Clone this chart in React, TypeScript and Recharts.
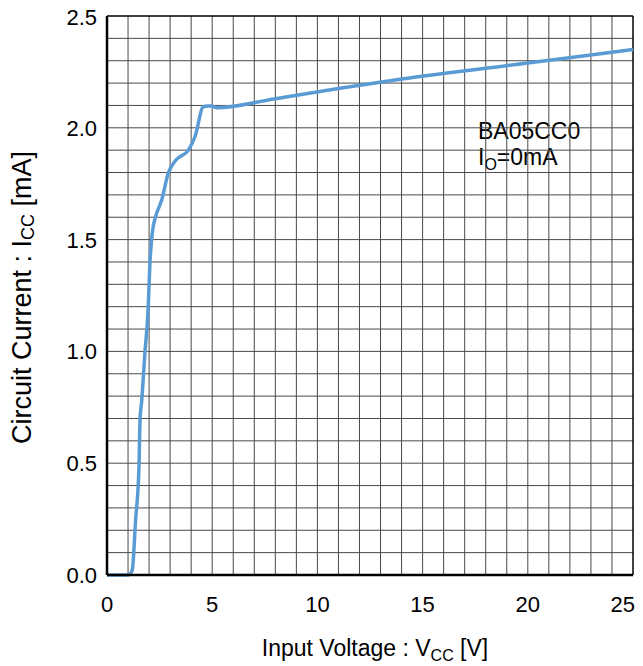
import React from "react";
import { LineChart, Line, XAxis, YAxis, ReferenceLine, ReferenceArea } from "recharts";

const voltage = [0, 0.5, 1.0, 1.1, 1.2, 1.36, 1.52, 1.57, 1.65, 1.8, 1.96, 2.04, 2.12, 2.2, 2.3, 2.6, 2.91, 3.28, 3.87, 4.18, 4.58, 4.8, 4.97, 5.21, 8.0, 11.07, 13.93, 20.0, 25];
const current = [0, 0, 0, 0.005, 0.022, 0.246, 0.484, 0.693, 0.78, 0.99, 1.2, 1.395, 1.5, 1.56, 1.6, 1.677, 1.797, 1.856, 1.9, 1.96, 2.094, 2.097, 2.097, 2.09, 2.13, 2.177, 2.217, 2.29, 2.35];
const xTicks = [0, 5, 10, 15, 20, 25];
const yTicks = [0, 0.5, 1.0, 1.5, 2.0, 2.5];
const labelLines = ["BA05CC0", "I", "O", "=0mA"];

const data = voltage.map((v, k) => ({ v, i: current[k] }));

const xGrid: number[] = [];
for (let k = 1; k < 25; k++) xGrid.push(k);
const yGrid: number[] = [];
for (let k = 1; k < 25; k++) yGrid.push(Math.round(k * 10) / 100);

const FONT = "Liberation Sans, Arial, sans-serif";

const XTick = (props: any) => {
  const { x, y, payload } = props;
  const last = payload.value === xTicks[xTicks.length - 1];
  return (
    <text x={last ? x + 8 : x} y={y} textAnchor={last ? "end" : "middle"} dy={15} fontFamily={FONT} fontSize={22} fill="#000">
      {payload.value}
    </text>
  );
};

const YTick = (props: any) => {
  const { x, y, payload } = props;
  return (
    <text x={x} y={y} textAnchor="end" dy={8} fontFamily={FONT} fontSize={22} fill="#000">
      {Number(payload.value).toFixed(1)}
    </text>
  );
};

const XLabel = (props: any) => {
  const vb = props.viewBox;
  return (
    <text x={vb.x + vb.width / 2 + 5} y={vb.y + 81} textAnchor="middle" fontFamily={FONT} fontSize={23} fill="#000">
      Input Voltage : V<tspan fontSize={16} dy={5}>CC</tspan><tspan dy={-5}> [V]</tspan>
    </text>
  );
};

const YLabel = (props: any) => {
  const vb = props.viewBox;
  const cx = 14;
  const cy = vb.y + vb.height / 2 + 2;
  return (
    <text x={cx} y={cy} transform={`rotate(-90 ${cx} ${cy})`} textAnchor="middle" dominantBaseline="central" fontFamily={FONT} fontSize={27} fill="#000">
      Circuit Current : I<tspan fontSize={18} dy={6}>CC</tspan><tspan dy={-6}> [mA]</tspan>
    </text>
  );
};

const BoxLabel = (props: any) => {
  const vb = props.viewBox;
  const x = vb.x + 7;
  return (
    <text fontFamily={FONT} fontSize={23} fill="#000">
      <tspan x={x} y={vb.y + 27}>{labelLines[0]}</tspan>
      <tspan x={x} y={vb.y + 53}>{labelLines[1]}</tspan>
      <tspan fontSize={16} dy={5}>{labelLines[2]}</tspan>
      <tspan dy={-5}>{labelLines[3]}</tspan>
    </text>
  );
};

export default function App() {
  return (
    <div>
      <style>{"html,body{overflow:hidden} svg.recharts-surface{overflow:visible}"}</style>
      <LineChart width={627} height={658} data={data} margin={{ top: 8, right: 2, bottom: 0, left: 39 }}>
        {xGrid.map((g) => (
          <ReferenceLine key={"x" + g} x={g} stroke="#4a4a4a" strokeWidth={1} />
        ))}
        {yGrid.map((g) => (
          <ReferenceLine key={"y" + g} y={g} stroke="#4a4a4a" strokeWidth={1} />
        ))}
        <ReferenceLine y={2.5} stroke="#000" strokeWidth={1.5} />
        <ReferenceLine x={25} stroke="#000" strokeWidth={1.5} />
        <ReferenceArea x1={17.3} x2={23.1} y1={1.8} y2={2.07} fill="#fff" fillOpacity={1} stroke="none" label={<BoxLabel />} />
        <XAxis
          type="number"
          dataKey="v"
          domain={[0, 25]}
          ticks={xTicks}
          height={91}
          tickLine={false}
          tickSize={0}
          tickMargin={22}
          axisLine={{ stroke: "#000", strokeWidth: 2.5 }}
          tick={<XTick />}
          label={<XLabel />}
        />
        <YAxis
          type="number"
          domain={[0, 2.5]}
          ticks={yTicks}
          width={60}
          tickLine={false}
          tickSize={0}
          tickMargin={10}
          axisLine={{ stroke: "#000", strokeWidth: 2.5 }}
          tick={<YTick />}
          label={<YLabel />}
        />
        <Line type="monotone" dataKey="i" stroke="#5B9BD5" strokeWidth={3.5} dot={false} isAnimationActive={false} />
      </LineChart>
    </div>
  );
}
